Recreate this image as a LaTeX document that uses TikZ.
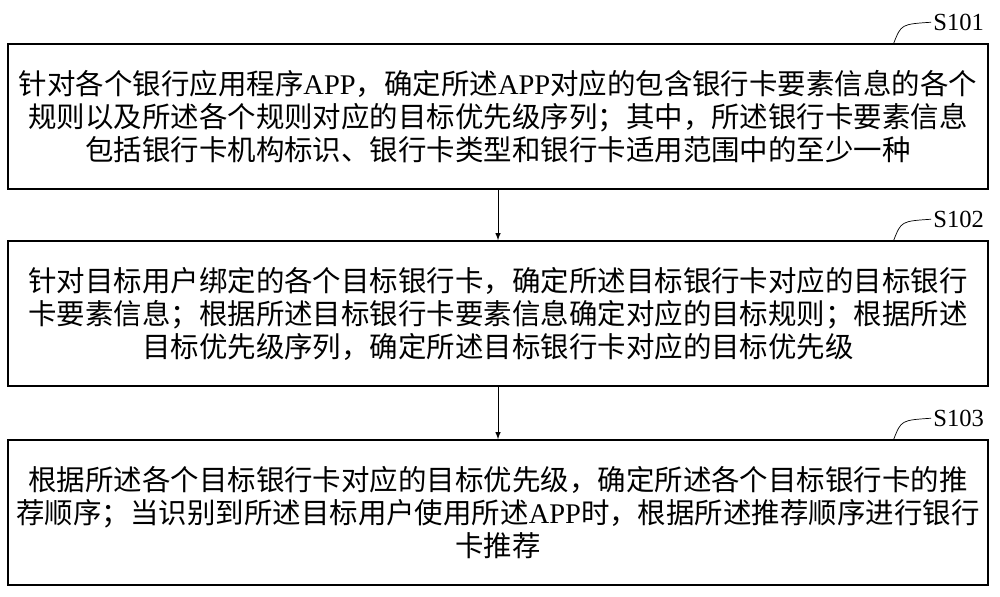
\documentclass[tikz,border=0pt]{standalone}
\usepackage{fontspec}
\setmainfont{Liberation Serif}
\newfontfamily\cjk{Noto Sans CJK SC}
\usetikzlibrary{positioning}
\tikzset{
  stepbox/.style={draw,line width=0.9pt,minimum width=19.6cm,minimum height=2.9cm,
    align=center,font=\cjk\fontsize{16.2}{18.8}\selectfont,inner sep=0pt},
  steplabel/.style={font=\fontsize{14}{16}\selectfont,anchor=west,inner sep=1pt},
}
\newcommand{\ap}{{\rmfamily APP}}
\begin{document}
\begin{tikzpicture}[x=0.02cm,y=-0.02cm]
  \useasboundingbox (0,0) rectangle (1000,597);

  \node[stepbox] (s1) at (498,116.5) {针对各个银行应用程序\ap，确定所述\ap 对应的包含银行卡要素信息的各个\\
    规则以及所述各个规则对应的目标优先级序列；其中，所述银行卡要素信息\\
    包括银行卡机构标识、银行卡类型和银行卡适用范围中的至少一种};
  \node[stepbox] (s2) at (498,313.5) {针对目标用户绑定的各个目标银行卡，确定所述目标银行卡对应的目标银行\\
    卡要素信息；根据所述目标银行卡要素信息确定对应的目标规则；根据所述\\
    目标优先级序列，确定所述目标银行卡对应的目标优先级};
  \node[stepbox] (s3) at (498,512.5) {根据所述各个目标银行卡对应的目标优先级，确定所述各个目标银行卡的推\\
    荐顺序；当识别到所述目标用户使用所述\ap 时，根据所述推荐顺序进行银行\\
    卡推荐};

  \draw[-latex] (s1) -- (s2);
  \draw[-latex] (s2) -- (s3);

  % step labels
  \foreach \b/\t in {s1/S101,s2/S102,s3/S103}{
    \draw ([xshift=-1.9cm]\b.north east) .. controls ([xshift=-1.75cm,yshift=0.38cm]\b.north east) .. ([xshift=-1.15cm,yshift=0.42cm]\b.north east)
      node[steplabel] {\t};
  }
\end{tikzpicture}
\end{document}
